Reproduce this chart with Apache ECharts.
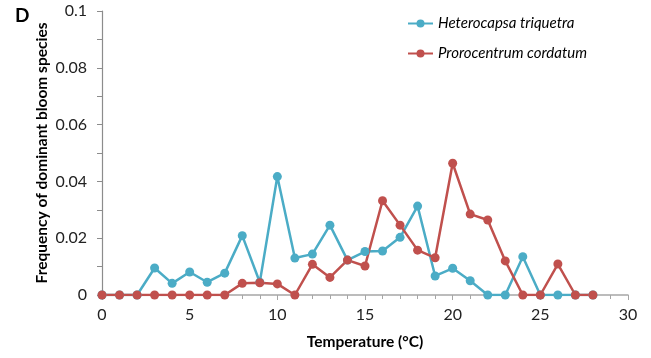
<!DOCTYPE html>
<html>
<head>
<meta charset="utf-8">
<script src="https://cdn.jsdelivr.net/npm/echarts@6/dist/echarts.min.js"></script>
<style>
  html, body { margin: 0; padding: 0; background: #fff; }
  #main { width: 651px; height: 358px; }
</style>
</head>
<body>
<div id="main"></div>
<script>
// temperatures (°C) and frequencies
const temps = [0, 1, 2, 3, 4, 5, 6, 7, 8, 9, 10, 11, 12, 13, 14, 15, 16, 17, 18, 19, 20, 21, 22, 23, 24, 25, 26, 27, 28];
const heterocapsa = [0, 0, 0, 0.0095, 0.0041, 0.0081, 0.0045, 0.0077, 0.0209, 0.0045, 0.0417, 0.0130, 0.0144, 0.0246,
  0.0123, 0.0153, 0.0155, 0.0203, 0.0313, 0.0067, 0.0094, 0.0050, 0, 0, 0.0135, 0, 0, 0, 0];
const prorocentrum = [0, 0, 0, 0, 0, 0, 0, 0, 0.0041, 0.0043, 0.0039, 0, 0.0108, 0.0062,
  0.0123, 0.0102, 0.0332, 0.0246, 0.0158, 0.0131, 0.0464, 0.0285, 0.0264, 0.0120, 0, 0, 0.0109, 0, 0];

const font = 'Lato, "Open Sans", sans-serif';
const chart = echarts.init(document.getElementById('main'));

const pairs = (vals) => temps.map((t, i) => [t, vals[i]]);

const option = {
  animation: false,
  textStyle: { fontFamily: font },
  grid: { left: 102, right: 23, top: 11, bottom: 63 },
  graphic: [{
    type: 'text', left: 15, top: 6,
    style: { text: 'D', font: 'bold 19px ' + font, fill: '#000' }
  }],
  legend: {
    orient: 'vertical',
    left: 402, top: 11,
    itemGap: 15,
    itemWidth: 25, itemHeight: 10,
    textStyle: { fontFamily: font, fontStyle: 'italic', fontSize: 15, color: '#000' },
    data: ['Heterocapsa triquetra', 'Prorocentrum cordatum']
  },
  xAxis: {
    type: 'value', min: 0, max: 30, interval: 5,
    name: 'Temperature (°C)', nameLocation: 'middle', nameGap: 39,
    nameMoveOverlap: false,
    nameTextStyle: { fontFamily: font, fontWeight: 'bold', fontSize: 15.5, color: '#000' },
    axisLine: { lineStyle: { color: '#a6a6a6', width: 1.5 } },
    axisTick: { show: true, length: 5, lineStyle: { color: '#a6a6a6' } },
    minorTick: { show: true, splitNumber: 5, length: 4, lineStyle: { color: '#a6a6a6' } },
    axisLabel: { fontSize: 16, color: '#222', margin: 12 },
    splitLine: { show: false }
  },
  yAxis: {
    type: 'value', min: 0, max: 0.1, interval: 0.02,
    name: 'Frequency of dominant bloom species', nameLocation: 'middle', nameGap: 52,
    nameMoveOverlap: false,
    nameTextStyle: { fontFamily: font, fontWeight: 'bold', fontSize: 15.5, color: '#000' },
    axisLine: { show: true, lineStyle: { color: '#8c8c8c', width: 1.2 } },
    axisTick: { show: true, length: 5, lineStyle: { color: '#8c8c8c' } },
    minorTick: { show: true, splitNumber: 2, length: 5, lineStyle: { color: '#8c8c8c' } },
    axisLabel: { fontSize: 16, color: '#222', margin: 15 },
    splitLine: { show: false }
  },
  series: [
    {
      name: 'Heterocapsa triquetra', type: 'line',
      data: pairs(heterocapsa),
      symbol: 'circle', symbolSize: 9,
      itemStyle: { color: '#4bacc6' },
      lineStyle: { color: '#4bacc6', width: 2.5 }
    },
    {
      name: 'Prorocentrum cordatum', type: 'line',
      data: pairs(prorocentrum),
      symbol: 'circle', symbolSize: 9,
      itemStyle: { color: '#c0504d' },
      lineStyle: { color: '#c0504d', width: 2.5 }
    }
  ]
};

chart.setOption(option);
</script>
</body>
</html>
